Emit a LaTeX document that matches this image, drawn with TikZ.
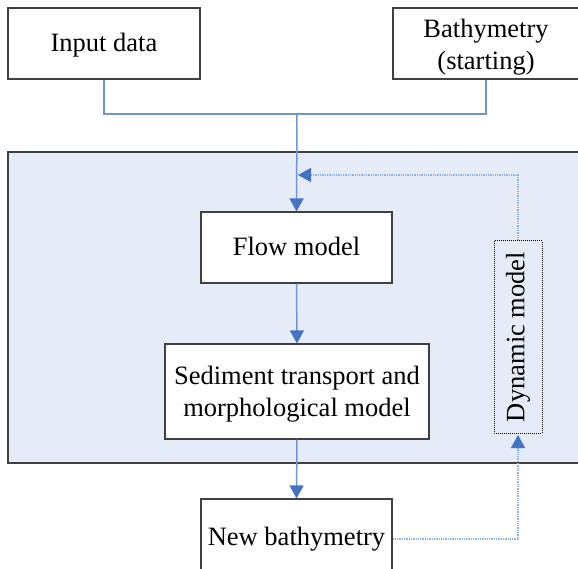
\documentclass[tikz,border=0pt]{standalone}
\usepackage{fontspec}
\setmainfont{Liberation Serif}
\usetikzlibrary{arrows.meta}
\definecolor{panelfill}{HTML}{E6ECF7}
\definecolor{boxline}{HTML}{404040}
\definecolor{mainblue}{HTML}{4472C4}
\definecolor{shaftblue}{HTML}{7397D4}
\definecolor{lightblue}{HTML}{6F95D0}
\definecolor{dotblue}{HTML}{8DB3E2}
\newcommand{\upstrut}[1]{\rule{0pt}{#1}}
\tikzset{
  box/.style={draw=boxline, line width=1.1pt, fill=white, align=center, inner sep=0pt,
    font=\fontsize{26.5}{32}\selectfont},
  oneline/.style={text height=22pt, text depth=5pt},
  panelbox/.style={draw=boxline, line width=1.4pt, fill=panelfill, inner sep=0pt},
  dynbox/.style={draw=black, densely dotted, line width=1pt, align=center, inner sep=0pt,
    font=\fontsize{26.5}{32}\selectfont},
  conn/.style={draw=shaftblue, line width=1.5pt},
  topconn/.style={draw=lightblue, line width=1.2pt},
  dotconn/.style={draw=dotblue, densely dotted, line width=1.3pt},
  tip/.style={-{Triangle[length=13pt,width=14pt,color=mainblue,fill=mainblue]}},
}
\begin{document}
\begin{tikzpicture}[x=1pt,y=-1pt]
\useasboundingbox (0,0) rectangle (578,569);
\node[panelbox, minimum width=572pt, minimum height=311pt] (panel) at (294,307.5) {};
\node[box, oneline, minimum width=192pt, minimum height=71pt] (input) at (104,43.5) {Input data};
\node[box, minimum width=186pt, minimum height=71pt] (bath) at (486,43.5) {\upstrut{25pt}Bathymetry\\(starting)};
\node[box, oneline, minimum width=191pt, minimum height=71pt] (flow) at (296.5,247.5) {Flow model};
\node[box, minimum width=264pt, minimum height=95pt] (sed) at (297,391.5) {\upstrut{24pt}Sediment transport and\\morphological model};
\node[box, text height=18pt, text depth=6pt, minimum width=191pt, minimum height=80pt] (newb) at (296.5,539) {New bathymetry};
\node[dynbox, rotate=90, minimum width=192pt, minimum height=48pt] (dyn) at (518,337) {Dynamic model};
\coordinate (j) at (297,114);
\coordinate (fb) at (298,175);
\draw[topconn] (input.south) |- (j) -| (bath.south);
\draw[conn, tip] (j) -- (flow.north);
\draw[conn, tip] (flow.south) -- (sed.north);
\draw[conn, tip] (sed.south) -- (newb.north);
\draw[dotconn, tip] (dyn.east) |- (fb);
\draw[dotconn, tip, shorten >=1.5pt] (newb.east) -| (dyn.west);
\end{tikzpicture}
\end{document}
